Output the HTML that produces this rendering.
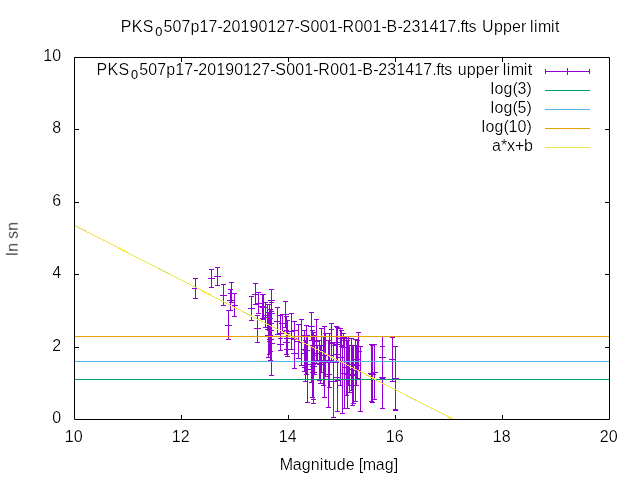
<!DOCTYPE html>
<html><head><meta charset="utf-8"><title>PKS_0507p17-20190127-S001-R001-B-231417.fts Upper limit</title>
<style>
html,body{margin:0;padding:0;background:#fff;}
#wrap{width:640px;height:480px;overflow:hidden;background:#fff;will-change:transform;}
svg{display:block;}
text{font-family:"Liberation Sans",sans-serif;font-size:16px;fill:#000;}
</style></head><body><div id="wrap">
<svg width="640" height="480" viewBox="0 0 640 480">
<rect width="640" height="480" fill="#fff"/>
<defs><filter id="thin" filterUnits="userSpaceOnUse" x="0" y="0" width="640" height="480" color-interpolation-filters="sRGB"><feComponentTransfer><feFuncA type="gamma" amplitude="1" exponent="1.6" offset="0"/></feComponentTransfer></filter></defs>
<path d="M195.5 278.5V298.5M193.0 278.5h5M193.0 298.5h5M192.0 288.5h7M211.5 269.5V287.5M209.0 269.5h5M209.0 287.5h5M208.0 278.5h7M217.5 267.5V285.5M215.0 267.5h5M215.0 285.5h5M214.0 276.5h7M223.5 284.5V305.5M221.0 284.5h5M221.0 305.5h5M220.0 295.5h7M228.5 310.5V339.5M226.0 310.5h5M226.0 339.5h5M225.0 325.5h7M230.5 289.5V310.5M228.0 289.5h5M228.0 310.5h5M227.0 300.5h7M231.5 282.5V302.5M229.0 282.5h5M229.0 302.5h5M228.0 293.5h7M234.5 293.5V316.5M232.0 293.5h5M232.0 316.5h5M231.0 305.5h7M251.5 296.5V320.5M249.0 296.5h5M249.0 320.5h5M248.0 308.5h7M255.5 283.5V304.5M253.0 283.5h5M253.0 304.5h5M252.0 294.5h7M257.5 315.5V342.5M255.0 315.5h5M255.0 342.5h5M254.0 328.5h7M258.5 292.5V313.5M256.0 292.5h5M256.0 313.5h5M255.0 303.5h7M262.5 294.5V318.5M260.0 294.5h5M260.0 318.5h5M259.0 306.5h7M263.5 294.5V319.5M261.0 294.5h5M261.0 319.5h5M260.0 307.5h7M265.5 302.5V327.5M263.0 302.5h5M263.0 327.5h5M262.0 315.5h7M267.5 304.5V329.5M265.0 304.5h5M265.0 329.5h5M264.0 317.5h7M268.5 312.5V357.5M266.0 312.5h5M266.0 357.5h5M265.0 335.5h7M269.5 304.5V341.5M267.0 304.5h5M267.0 341.5h5M266.0 323.5h7M269.5 315.5V354.5M267.0 315.5h5M267.0 354.5h5M266.0 335.5h7M270.5 309.5V351.5M268.0 309.5h5M268.0 351.5h5M267.0 330.5h7M270.5 318.5V360.5M268.0 318.5h5M268.0 360.5h5M267.0 339.5h7M271.5 289.5V311.5M269.0 289.5h5M269.0 311.5h5M268.0 300.5h7M271.5 302.5V323.5M269.0 302.5h5M269.0 323.5h5M268.0 313.5h7M271.5 311.5V375.5M269.0 311.5h5M269.0 375.5h5M268.0 343.5h7M277.5 307.5V334.5M275.0 307.5h5M275.0 334.5h5M274.0 321.5h7M280.5 315.5V350.5M278.0 315.5h5M278.0 350.5h5M277.0 333.5h7M280.5 338.5V350.5M278.0 338.5h5M278.0 350.5h5M277.0 344.5h7M282.5 314.5V331.5M280.0 314.5h5M280.0 331.5h5M279.0 323.5h7M285.5 301.5V327.5M283.0 301.5h5M283.0 327.5h5M282.0 314.5h7M286.5 316.5V349.5M284.0 316.5h5M284.0 349.5h5M283.0 333.5h7M286.5 330.5V354.5M284.0 330.5h5M284.0 354.5h5M283.0 342.5h7M287.5 320.5V356.5M285.0 320.5h5M285.0 356.5h5M284.0 338.5h7M291.5 313.5V349.5M289.0 313.5h5M289.0 349.5h5M288.0 331.5h7M294.5 321.5V339.5M292.0 321.5h5M292.0 339.5h5M291.0 330.5h7M294.5 338.5V368.5M292.0 338.5h5M292.0 368.5h5M291.0 353.5h7M298.5 324.5V358.5M296.0 324.5h5M296.0 358.5h5M295.0 341.5h7M301.5 319.5V365.5M299.0 319.5h5M299.0 365.5h5M298.0 342.5h7M304.5 330.5V367.5M302.0 330.5h5M302.0 367.5h5M301.0 349.5h7M304.5 335.5V371.5M302.0 335.5h5M302.0 371.5h5M301.0 353.5h7M305.5 340.5V381.5M303.0 340.5h5M303.0 381.5h5M302.0 361.5h7M306.5 325.5V374.5M304.0 325.5h5M304.0 374.5h5M303.0 350.5h7M307.5 335.5V402.5M305.0 335.5h5M305.0 402.5h5M304.0 369.5h7M311.5 312.5V340.5M309.0 312.5h5M309.0 340.5h5M308.0 326.5h7M311.5 345.5V382.5M309.0 345.5h5M309.0 382.5h5M308.0 364.5h7M312.5 330.5V397.5M310.0 330.5h5M310.0 397.5h5M309.0 364.5h7M313.5 332.5V399.5M311.0 332.5h5M311.0 399.5h5M310.0 366.5h7M313.5 340.5V403.5M311.0 340.5h5M311.0 403.5h5M310.0 372.5h7M314.5 335.5V374.5M312.0 335.5h5M312.0 374.5h5M311.0 355.5h7M316.5 319.5V363.5M314.0 319.5h5M314.0 363.5h5M313.0 341.5h7M317.5 345.5V360.5M315.0 345.5h5M315.0 360.5h5M314.0 353.5h7M319.5 340.5V380.5M317.0 340.5h5M317.0 380.5h5M316.0 360.5h7M320.5 345.5V383.5M318.0 345.5h5M318.0 383.5h5M317.0 364.5h7M321.5 328.5V372.5M319.0 328.5h5M319.0 372.5h5M318.0 350.5h7M323.5 336.5V385.5M321.0 336.5h5M321.0 385.5h5M320.0 361.5h7M324.5 326.5V397.5M322.0 326.5h5M322.0 397.5h5M321.0 362.5h7M325.5 333.5V376.5M323.0 333.5h5M323.0 376.5h5M322.0 355.5h7M328.5 340.5V407.5M326.0 340.5h5M326.0 407.5h5M325.0 374.5h7M329.5 333.5V387.5M327.0 333.5h5M327.0 387.5h5M326.0 360.5h7M331.5 323.5V362.5M329.0 323.5h5M329.0 362.5h5M328.0 343.5h7M331.5 329.5V355.5M329.0 329.5h5M329.0 355.5h5M328.0 342.5h7M333.5 345.5V417.5M331.0 345.5h5M331.0 417.5h5M330.0 381.5h7M336.5 326.5V362.5M334.0 326.5h5M334.0 362.5h5M333.0 344.5h7M337.5 327.5V380.5M335.0 327.5h5M335.0 380.5h5M334.0 354.5h7M337.5 342.5V411.5M335.0 342.5h5M335.0 411.5h5M334.0 377.5h7M340.5 328.5V385.5M338.0 328.5h5M338.0 385.5h5M337.0 357.5h7M341.5 330.5V346.5M339.0 330.5h5M339.0 346.5h5M338.0 338.5h7M342.5 345.5V413.5M340.0 345.5h5M340.0 413.5h5M339.0 379.5h7M343.5 333.5V347.5M341.0 333.5h5M341.0 347.5h5M340.0 340.5h7M344.5 337.5V408.5M342.0 337.5h5M342.0 408.5h5M341.0 373.5h7M346.5 338.5V395.5M344.0 338.5h5M344.0 395.5h5M343.0 367.5h7M347.5 340.5V408.5M345.0 340.5h5M345.0 408.5h5M344.0 374.5h7M348.5 336.5V385.5M346.0 336.5h5M346.0 385.5h5M345.0 361.5h7M349.5 345.5V392.5M347.0 345.5h5M347.0 392.5h5M346.0 369.5h7M351.5 338.5V390.5M349.0 338.5h5M349.0 390.5h5M348.0 364.5h7M352.5 345.5V405.5M350.0 345.5h5M350.0 405.5h5M349.0 375.5h7M353.5 345.5V403.5M351.0 345.5h5M351.0 403.5h5M350.0 374.5h7M355.5 339.5V401.5M353.0 339.5h5M353.0 401.5h5M352.0 370.5h7M356.5 345.5V385.5M354.0 345.5h5M354.0 385.5h5M353.0 365.5h7M357.5 340.5V378.5M355.0 340.5h5M355.0 378.5h5M354.0 359.5h7M358.5 332.5V370.5M356.0 332.5h5M356.0 370.5h5M355.0 351.5h7M360.5 346.5V411.5M358.0 346.5h5M358.0 411.5h5M357.0 379.5h7M371.5 344.5V401.5M369.0 344.5h5M369.0 401.5h5M368.0 373.5h7M372.5 345.5V402.5M370.0 345.5h5M370.0 402.5h5M369.0 374.5h7M374.5 344.5V399.5M372.0 344.5h5M372.0 399.5h5M371.0 372.5h7M382.5 336.5V378.5M380.0 336.5h5M380.0 378.5h5M379.0 357.5h7M382.5 346.5V408.5M380.0 346.5h5M380.0 408.5h5M379.0 377.5h7M392.5 337.5V381.5M390.0 337.5h5M390.0 381.5h5M389.0 359.5h7M395.5 346.5V410.5M393.0 346.5h5M393.0 410.5h5M392.0 378.5h7M395.5 346.5V409.5M393.0 346.5h5M393.0 409.5h5M392.0 378.5h7" stroke="#9400d3" stroke-width="1" fill="none"/>
<path d="M75 379.5H609" stroke="#009e73" stroke-width="1"/>
<path d="M75 361.5H609" stroke="#56b4e9" stroke-width="1"/>
<path d="M75 336.5H609" stroke="#e69f00" stroke-width="1"/>
<path d="M74.5 225.4L452.5 419.0" stroke="#f0e442" stroke-width="1" fill="none" shape-rendering="crispEdges"/>
<path d="M74.5 57.5H609.5V419.5H74.5ZM181.5 58V62M181.5 419V415M288.5 58V62M288.5 419V415M395.5 58V62M395.5 419V415M502.5 58V62M502.5 419V415M75 129.5H79M609 129.5H605M75 202.5H79M609 202.5H605M75 274.5H79M609 274.5H605M75 347.5H79M609 347.5H605" stroke="#000" stroke-width="1" fill="none"/>
<path d="M545 71.5H590M545.5 69V74M589.5 69V74M567.5 68V75" stroke="#9400d3" stroke-width="1"/>
<path d="M545 90.5H590" stroke="#009e73" stroke-width="1"/>
<path d="M545 109.5H590" stroke="#56b4e9" stroke-width="1"/>
<path d="M545 128.5H590" stroke="#e69f00" stroke-width="1"/>
<path d="M545 147.5H590" stroke="#f0e442" stroke-width="1"/>
<text x="155.2" y="35.5" style="font-size:12.8px">0</text><text x="131" y="78.5" style="font-size:12.8px">0</text><g filter="url(#thin)">
<text x="52.15" y="422.7">0</text>
<text x="52.15" y="350.7">2</text>
<text x="52.15" y="277.7">4</text>
<text x="52.15" y="205.7">6</text>
<text x="52.15" y="132.7">8</text>
<text x="43.15 52.15" y="60.7">10</text>
<text x="64.7 73.7" y="441.6">10</text>
<text x="171.7 180.7" y="441.6">12</text>
<text x="278.7 287.7" y="441.6">14</text>
<text x="385.7 394.7" y="441.6">16</text>
<text x="492.7 501.7" y="441.6">18</text>
<text x="599.7 608.7" y="441.6">20</text>
<text x="120.8 131.8 142.8" y="31.7">PKS</text><text x="163.5 172.5 181.5 190.5 199.5 208.5 217.5 222.5 231.5 240.5 249.5 258.5 267.5 276.5 285.5 294.5 299.5 310.5 319.5 328.5 337.5 342.5 354.5 363.5 372.5 381.5 386.5 397.5 402.5 411.5 420.5 429.5 438.5 447.5 456.5 460.5 464.5 468.5" y="31.7">507p17-20190127-S001-R001-B-231417.fts</text><text x="482 494 503 512 521 526 530 534 538 551 555" y="31.7">Upper limit</text>
<text x="96.6 107.6 118.6" y="74.7">PKS</text><text x="139.3 148.3 157.3 166.3 175.3 184.3 193.3 198.3 207.3 216.3 225.3 234.3 243.3 252.3 261.3 270.3 275.3 286.3 295.3 304.3 313.3 318.3 330.3 339.3 348.3 357.3 362.3 373.3 378.3 387.3 396.3 405.3 414.3 423.3 432.3 436.3 440.3 444.3" y="74.7">507p17-20190127-S001-R001-B-231417.fts</text><text x="457.8 466.8 475.8 484.8 493.8 498.8 502.8 506.8 510.8 523.8 527.8" y="74.7">upper limit</text>
<text x="490.5 494.5 503.5 512.5 517.5 526.5" y="93.7">log(3)</text>
<text x="490.5 494.5 503.5 512.5 517.5 526.5" y="112.7">log(5)</text>
<text x="481.5 485.5 494.5 503.5 508.5 517.5 526.5" y="131.7">log(10)</text>
<text x="492 501 507 515 524" y="150.7">a*x+b</text>
<text x="279.8 292.8 301.8 310.8 319.8 323.8 327.8 336.8 345.8 354.8 358.8 362.8 375.8 384.8 393.8" y="469.8">Magnitude [mag]</text>
<text transform="translate(17.75 255.8) rotate(-90)" x="0 4 13 17 25" y="0">ln sn</text>
</g>
</svg>
</div></body></html>
